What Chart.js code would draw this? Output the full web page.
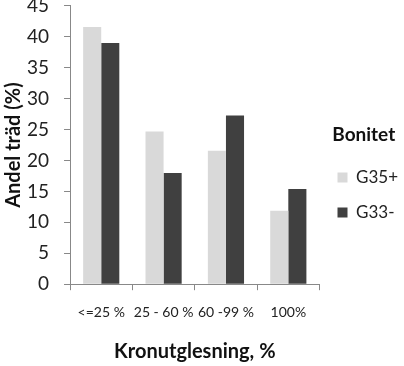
<!DOCTYPE html>
<html>
<head>
<meta charset="utf-8">
<script src="https://cdn.jsdelivr.net/npm/chart.js@4"></script>
<style>
  html, body { margin: 0; padding: 0; background: #fff; }
  #wrap { width: 404px; height: 366px; }
</style>
</head>
<body>
<div id="wrap"><canvas id="chart" width="404" height="366"></canvas></div>
<script>
// data
var categories = ['<=25 %', '25 - 60 %', '60 -99 %', '100%']
var g35 = [41.6, 24.7, 21.6, 11.9]
var g33 = [39.0, 18.0, 27.3, 15.4]
var seriesNames = ['G35+', 'G33-']

var fontFamily = 'Lato, "Open Sans", sans-serif'
Chart.defaults.font.family = fontFamily
Chart.defaults.color = '#222'

var ctx = document.getElementById('chart').getContext('2d');
var chart = new Chart(ctx, {
    type: 'bar',
    data: {
        labels: categories,
        datasets: [{
            label: seriesNames[0],
            data: g35,
            backgroundColor: '#d9d9d9',
            borderWidth: 0,
            categoryPercentage: 0.58,
            barPercentage: 1.0
        }, {
            label: seriesNames[1],
            data: g33,
            backgroundColor: '#404040',
            borderWidth: 0,
            categoryPercentage: 0.58,
            barPercentage: 1.0
        }]
    },
    options: {
        responsive: false,
        animation: false,
        layout: { padding: { top: 0, right: -4, bottom: 2, left: 2 } },
        scales: {
            x: {
                grid: { display: true, drawOnChartArea: false, offset: true, tickLength: 6, color: '#888' },
                border: { color: '#888' },
                ticks: { font: { size: 14 }, padding: 14, maxRotation: 0, autoSkip: false, color: '#222' },
                title: { display: true, text: 'Kronutglesning, %', font: { size: 20, weight: 'bold' }, padding: { top: 5, bottom: 0 }, color: '#111' }
            },
            y: {
                min: 0,
                max: 45,
                // long tick with a dash so only the 6px next to the axis shows
                grid: { display: true, drawOnChartArea: false, tickLength: 21, color: '#888', tickBorderDash: [6, 15], tickBorderDashOffset: 6 },
                border: { color: '#888' },
                ticks: { stepSize: 5, font: { size: 19, lineHeight: 0.63 }, padding: 0, color: '#222' },
                title: { display: true, text: 'Andel träd (%)', font: { size: 20, weight: 'bold' }, padding: { top: 0, bottom: 1 }, color: '#111' }
            }
        },
        plugins: {
            legend: {
                position: 'right',
                title: { display: true, text: 'Bonitet', font: { size: 19, weight: 'bold' }, color: '#111', padding: { top: 0, bottom: 3 } },
                labels: { boxWidth: 10, boxHeight: 10, font: { size: 17 }, padding: 18, color: '#222' }
            },
            tooltip: { enabled: false }
        }
    },
});
</script>
</body>
</html>
